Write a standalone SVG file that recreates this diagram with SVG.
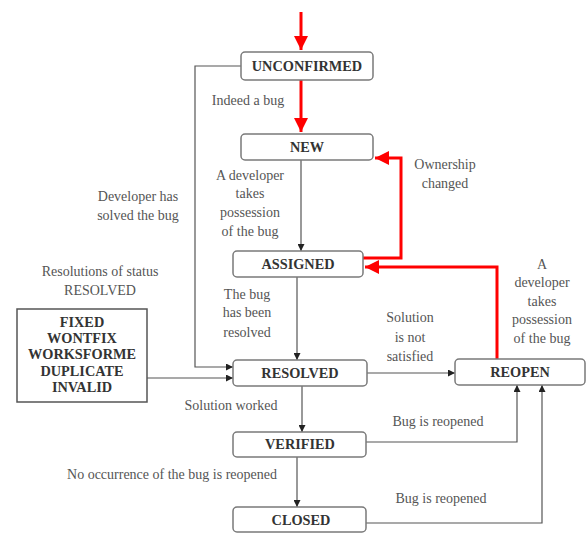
<svg xmlns="http://www.w3.org/2000/svg" width="587" height="534" viewBox="0 0 587 534">
<defs>
<marker id="blk" viewBox="0 0 8 8" refX="8" refY="4" markerWidth="7" markerHeight="7" markerUnits="userSpaceOnUse" orient="auto"><path d="M0,0 L8,4 L0,8 z" fill="#222"/></marker>
<marker id="red" viewBox="0 0 10 10" refX="10" refY="5" markerWidth="14" markerHeight="14" markerUnits="userSpaceOnUse" orient="auto"><path d="M0,0 L10,5 L0,10 z" fill="#f00"/></marker>
</defs>
<style>
.box{fill:#fff;stroke:#7a7a7a;stroke-width:1.5}
.nl{font-family:"Liberation Serif",serif;font-weight:bold;font-size:14.3px;fill:#333;text-anchor:middle}
.lb{font-family:"Liberation Serif",serif;font-size:14px;fill:#555;text-anchor:middle}
.ln{fill:none;stroke:#555;stroke-width:1.2}
.rd{fill:none;stroke:#f00;stroke-width:3}
</style>
<rect width="587" height="534" fill="#fff"/>
<g id="connectors">
<path class="rd" d="M301,12 V50" marker-end="url(#red)"/>
<path class="rd" d="M301,80 V132" marker-end="url(#red)"/>
<path class="rd" d="M363,258 H401 V158 H375" marker-end="url(#red)"/>
<path class="rd" d="M497,359 V267 H365" marker-end="url(#red)"/>
<path class="ln" d="M301,160 V251" marker-end="url(#blk)"/>
<path class="ln" d="M297,277 V360" marker-end="url(#blk)"/>
<path class="ln" d="M241,66 H195 V367 H233" marker-end="url(#blk)"/>
<path class="ln" d="M147,378 H233" marker-end="url(#blk)"/>
<path class="ln" d="M367,373 H455" marker-end="url(#blk)"/>
<path class="ln" d="M302,386 V432" marker-end="url(#blk)"/>
<path class="ln" d="M297,457 V507" marker-end="url(#blk)"/>
<path class="ln" d="M366,442 H517 V385" marker-end="url(#blk)"/>
<path class="ln" d="M366,523 H542 V385" marker-end="url(#blk)"/>
</g>
<g id="unconfirmed"><rect class="box" x="241" y="52" width="132" height="28" rx="4"/><text class="nl" x="307" y="71">UNCONFIRMED</text></g>
<g id="new"><rect class="box" x="241" y="134" width="132" height="26" rx="4"/><text class="nl" x="307" y="152">NEW</text></g>
<g id="assigned"><rect class="box" x="233" y="251" width="130" height="26" rx="4"/><text class="nl" x="298" y="269">ASSIGNED</text></g>
<g id="resolved"><rect class="box" x="233" y="360" width="134" height="26" rx="4"/><text class="nl" x="300" y="378">RESOLVED</text></g>
<g id="verified"><rect class="box" x="233" y="432" width="133" height="25" rx="4"/><text class="nl" x="300" y="449">VERIFIED</text></g>
<g id="closed"><rect class="box" x="233" y="507" width="133" height="25" rx="4"/><text class="nl" x="301" y="525">CLOSED</text></g>
<g id="reopen"><rect class="box" x="455" y="359" width="130" height="26" rx="4"/><text class="nl" x="520" y="377">REOPEN</text></g>
<g id="resolutions"><rect x="17" y="309" width="130" height="93" fill="#fff" stroke="#555" stroke-width="1.5"/>
<text class="nl" x="82" y="327">FIXED</text><text class="nl" x="82" y="343">WONTFIX</text><text class="nl" x="82" y="359">WORKSFORME</text><text class="nl" x="82" y="376">DUPLICATE</text><text class="nl" x="82" y="392">INVALID</text></g>
<g id="labels">
<text class="lb" x="248" y="105">Indeed a bug</text>
<text class="lb" x="250" y="180">A developer</text><text class="lb" x="250" y="198">takes</text><text class="lb" x="250" y="217">possession</text><text class="lb" x="250" y="236">of the bug</text>
<text class="lb" x="138" y="201">Developer has</text><text class="lb" x="138" y="220">solved the bug</text>
<text class="lb" x="445" y="169">Ownership</text><text class="lb" x="445" y="188">changed</text>
<text class="lb" x="542" y="269">A</text><text class="lb" x="542" y="287">developer</text><text class="lb" x="542" y="306">takes</text><text class="lb" x="542" y="324">possession</text><text class="lb" x="542" y="343">of the bug</text>
<text class="lb" x="410" y="322">Solution</text><text class="lb" x="410" y="342">is not</text><text class="lb" x="410" y="361">satisfied</text>
<text class="lb" x="100" y="276">Resolutions of status</text><text class="lb" x="100" y="295">RESOLVED</text>
<text class="lb" x="247" y="299">The bug</text><text class="lb" x="247" y="317">has been</text><text class="lb" x="247" y="337">resolved</text>
<text class="lb" x="231" y="410">Solution worked</text>
<text class="lb" x="172" y="479">No occurrence of the bug is reopened</text>
<text class="lb" x="438" y="426">Bug is reopened</text>
<text class="lb" x="441" y="503">Bug is reopened</text>
</g>
</svg>
